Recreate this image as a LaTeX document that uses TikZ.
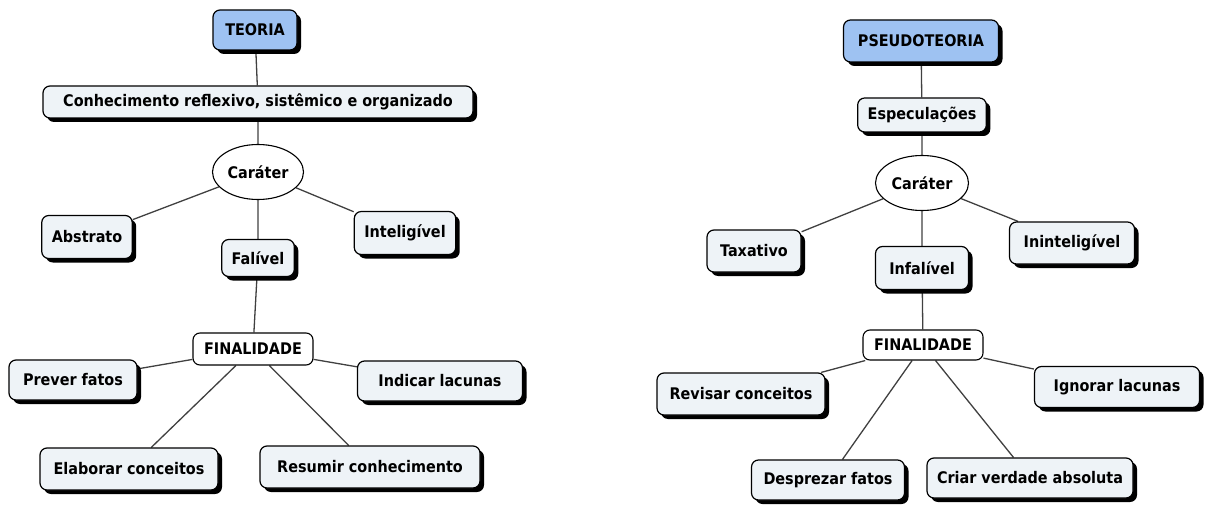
\documentclass[tikz,border=0pt]{standalone}
\usepackage{fontspec}
\setmainfont{DejaVu Sans Condensed}
\usetikzlibrary{shapes.geometric,shadows,backgrounds}
\definecolor{boxfill}{HTML}{EEF3F7}
\definecolor{rootfill}{HTML}{9EC2F2}
\tikzset{
  label font/.style={font=\bfseries\fontsize{16}{18}\selectfont},
  idea/.style={draw=black, line width=1.2pt, rounded corners=7pt, fill=boxfill,
    label font, inner xsep=10pt, minimum height=40pt,
    drop shadow={shadow xshift=4pt, shadow yshift=-4pt, fill=black, opacity=1}},
  root/.style={idea, fill=rootfill},
  hub/.style={draw=black, line width=1.1pt, rounded corners=7pt, fill=white,
    label font, inner xsep=5pt, minimum height=32pt, minimum width=120pt},
  trait/.style={ellipse, draw=black, line width=1.1pt, fill=white, label font,
    minimum width=91pt, minimum height=55pt, inner sep=1pt},
  link/.style={draw=black!75, line width=1.3pt}
}
\begin{document}
\begin{tikzpicture}[x=1pt,y=-1pt]
  \useasboundingbox (0,0) rectangle (1209,505);
  % teoria
  \node [root, minimum height=40pt, minimum width=84pt] (teoria) at (255,30) {TEORIA};
  \node [idea, minimum height=32pt, minimum width=430pt] (conhec) at (258,102) {Conhecimento reflexivo, sistêmico e organizado};
  \node [trait] (carT) at (258,172) {Caráter};
  \node [idea, minimum height=43pt] (abstrato) at (87,237) {Abstrato};
  \node [idea, minimum height=43pt] (intelig) at (405,233) {Inteligível};
  \node [idea, minimum height=37pt] (falivel) at (258,258) {Falível};
  \node [hub] (finT) at (253,349) {FINALIDADE};
  \node [idea, minimum width=128pt] (prever) at (73,380) {Prever fatos};
  \node [idea, minimum width=165pt] (indicar) at (440,381) {Indicar lacunas};
  \node [idea, minimum height=42pt, minimum width=178pt] (elaborar) at (129,469) {Elaborar conceitos};
  \node [idea, minimum height=42pt, minimum width=220pt] (resumir) at (370,467) {Resumir conhecimento};
  % pseudoteoria
  \node [root, minimum height=42pt, minimum width=155pt] (pseudo) at (921,41) {PSEUDOTEORIA};
  \node [idea, minimum height=34pt, minimum width=123pt] (especul) at (922,115) {Especulações};
  \node [trait, minimum width=93pt] (carP) at (922,183) {Caráter};
  \node [idea, minimum height=42pt, minimum width=94pt] (taxativo) at (754,251) {Taxativo};
  \node [idea, minimum height=42pt, minimum width=125pt] (ininteli) at (1072,243) {Ininteligível};
  \node [idea, minimum height=43pt, minimum width=93pt] (infalivel) at (922,268) {Infalível};
  \node [hub, minimum height=30pt] (finP) at (923,345) {FINALIDADE};
  \node [idea, minimum height=42pt, minimum width=168pt] (revisar) at (741,394) {Revisar conceitos};
  \node [idea, minimum height=41pt, minimum width=165pt] (ignorar) at (1117,387) {Ignorar lacunas};
  \node [idea, minimum width=153pt] (desprezar) at (828,480) {Desprezar fatos};
  \node [idea, minimum width=206pt] (criar) at (1030,478) {Criar verdade absoluta};
  \begin{scope}[on background layer]
    \draw [link] (teoria) -- (conhec) -- (carT);
    \draw [link] (carT) -- (abstrato);
    \draw [link] (carT) -- (intelig);
    \draw [link] (carT) -- (falivel) -- (finT);
    \foreach \leaf in {prever, indicar, elaborar, resumir}
      \draw [link] (finT) -- (\leaf);
    \draw [link] (pseudo) -- (especul) -- (carP);
    \draw [link] (carP) -- (taxativo);
    \draw [link] (carP) -- (ininteli);
    \draw [link] (carP) -- (infalivel) -- (finP);
    \foreach \leaf in {revisar, ignorar, desprezar, criar}
      \draw [link] (finP) -- (\leaf);
  \end{scope}
\end{tikzpicture}
\end{document}
